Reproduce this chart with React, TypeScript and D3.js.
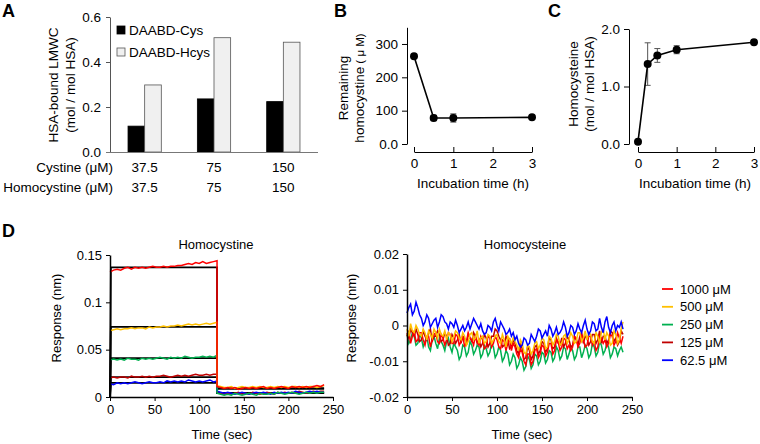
import { useEffect, useRef } from 'react';
import * as d3 from 'd3';

const FONT = '"Liberation Sans", Arial, Helvetica, sans-serif';

// ---- Panel A: HSA-bound LMWC ----
const A_GROUPS = ['37.5', '75', '150'];
const A_CYSTINE = ['37.5', '75', '150'];
const A_HOMOCYSTINE = ['37.5', '75', '150'];
const A_SERIES = ['DAABD-Cys', 'DAABD-Hcys'];
const A_CYS = [0.115, 0.236, 0.224];
const A_HCYS = [0.298, 0.508, 0.488];
const A_TICKS = [0, 0.2, 0.4, 0.6];

// ---- Panel B: remaining homocystine ----
const B_TIME = [0, 0.5, 1, 3];
const B_VALUE = [263, 78, 78, 80];
const B_ERR = [4, 8, 12, 4];
const B_TICKS = [0, 100, 200, 300];

// ---- Panel C: homocysteine bound ----
const C_TIME = [0, 0.25, 0.5, 1, 3];
const C_VALUE = [0.04, 1.39, 1.54, 1.64, 1.77];
const C_ERR = [0.02, 0.37, 0.12, 0.07, 0.04];
const C_TICKS = [0, 1, 2];
const TIME_TICKS_H = [0, 1, 2, 3];

// ---- Panel D: sensorgrams (values in 1e-3 nm) ----
const D_CONC = ['1000 μM', '500 μM', '250 μM', '125 μM', '62.5 μM'];
const D_COLORS = ['#ff0000', '#ffc000', '#00b050', '#c00000', '#0000ff'];
const D_T_ASSOC = d3.range(0, 121, 4);
const D_T_DISS = d3.range(120, 241, 4);
const D_T_HCY = d3.range(0, 241, 2);

const HCYSTINE_ASSOC = [
  [132, 134, 135, 134, 136, 137, 135, 137, 136, 137, 136, 137, 138, 137, 137, 138, 137, 138, 138, 139, 139, 140, 141, 140, 142, 141, 143, 141, 142, 143, 144],
  [70, 71, 72, 71, 72, 72, 73, 72, 73, 73, 72, 74, 73, 74, 74, 75, 74, 75, 75, 76, 75, 76, 77, 76, 77, 76, 77, 78, 77, 78, 79],
  [39, 40, 39, 40, 39, 41, 40, 40, 39, 41, 40, 41, 40, 41, 42, 41, 40, 42, 41, 42, 41, 43, 42, 41, 42, 42, 43, 42, 43, 42, 44],
  [20, 21, 20, 21, 21, 20, 22, 21, 21, 22, 21, 22, 21, 22, 22, 23, 22, 21, 22, 23, 22, 23, 22, 23, 24, 23, 23, 24, 23, 24, 24],
  [14, 13, 15, 14, 15, 14, 15, 16, 15, 14, 15, 16, 15, 15, 16, 15, 17, 16, 17, 16, 17, 16, 18, 17, 16, 17, 16, 17, 18, 16, 17],
];
const HCYSTINE_DISS = [
  [11, 10, 9, 10, 9, 10, 8, 9, 10, 9, 10, 9, 10, 11, 9, 10, 9, 10, 11, 10, 9, 11, 10, 11, 10, 11, 10, 11, 12, 11, 13],
  [12, 11, 10, 10, 11, 9, 10, 11, 10, 10, 11, 10, 11, 10, 10, 11, 10, 11, 10, 11, 10, 11, 11, 10, 11, 10, 11, 11, 10, 11, 12],
  [4, 3, 2, 3, 2, 4, 3, 2, 3, 4, 3, 2, 4, 3, 3, 4, 3, 5, 4, 3, 4, 5, 4, 3, 4, 5, 4, 5, 4, 5, 5],
  [5, 4, 3, 4, 3, 4, 5, 3, 4, 3, 5, 4, 3, 4, 5, 4, 3, 5, 4, 5, 4, 5, 4, 6, 5, 4, 5, 6, 5, 6, 6],
  [6, 5, 4, 5, 4, 3, 4, 5, 4, 3, 4, 5, 4, 5, 4, 3, 5, 4, 5, 4, 5, 4, 6, 5, 4, 5, 6, 5, 6, 5, 5],
];
// 1:1 fit curves: plateau during association, level after dissociation
const FIT_TIME = [0, 1, 120, 120, 240];
const FIT_PLATEAU = [137, 74, 41, 21, 15];
const FIT_DISS = [9, 9, 4, 4, 4];

const HCYSTEINE = [
  [-3, -1.5, -5, -3, -1.5, -4.5, -4, -2, -2, -4, -5.5, -3, -3, -6, -4, -2.5, -2, -4.5, -5, -2.5, -3.5, -5.5, -4, -2, -2.5, -5, -5, -2.5, -3, -5.5, -4.5, -3, -6, -4.5, -2, -3.5, -4, -5.5, -3, -4.5, -5.5, -3, -4, -6.5, -6, -3, -3.5, -6, -5, -3, -4, -6, -6.5, -4, -4.5, -7, -5, -3.5, -7, -5, -6, -8, -9, -6.5, -7.5, -10, -11, -8, -8, -11, -10, -7, -6.5, -9, -8, -5.5, -6, -8.5, -7.5, -5, -5, -8, -7, -4, -4.5, -7, -6, -3.5, -4, -6.5, -5.5, -7, -6, -3, -3.5, -6, -5, -2.5, -4, -6, -5.5, -3, -3, -5.5, -4.5, -7, -6, -3, -3.5, -5, -4, -6, -5, -2.5, -3, -5.5, -4.5, -2, -3.5, -5, -3],
  [-1, -3, 0.5, -1.5, -2, 0, -1, -2.5, -3, -1, -2, -4, -1.5, -2.5, -3.5, -1, -2, -3.5, -1, -2.5, -3, -1.5, -4, -2, -2.5, -4.5, -3, -1.5, -2, -3.5, -4, -2, -3, -5.5, -4.5, -2.5, -2, -4, -3.5, -1.5, -5, -3.5, -3, -5, -4.5, -2.5, -3, -5, -4, -3, -2.5, -4.5, -5, -2.5, -4, -6, -3, -4, -5, -3.5, -4.5, -5.5, -7, -4, -5, -7.5, -8, -5.5, -6, -8, -7, -5, -4.5, -6.5, -5.5, -3.5, -4, -6.5, -6, -3, -3.5, -5.5, -4.5, -2.5, -3, -5.5, -5, -3, -2.5, -5, -4, -2, -3, -5, -4.5, -2, -2, -4.5, -3.5, -1.5, -4, -2, -2.5, -4.5, -5, -2, -3, -5, -2, -1, -4, -2, -3, -5.5, -5, -1.5, -2.5, -5, -4, -1, 1],
  [-2.5, -5, -4, -2, -3, -5.5, -5, -2.5, -3.5, -6, -4.5, -3, -6, -7, -4, -3, -5, -6.5, -3.5, -4.5, -5.5, -7, -4.5, -3.5, -6, -7.5, -5, -6, -7, -9.5, -8.5, -5.5, -6, -8.5, -7.5, -4.5, -5.5, -8, -7, -5.5, -6, -9, -8, -5.5, -6.5, -8.5, -7.5, -5, -6, -9, -8, -6, -7, -10, -9, -7, -8, -11, -10, -8, -9, -12, -11, -9, -10, -12.5, -11.5, -8.5, -9.5, -12, -11, -8, -8.5, -11, -10, -7.5, -8, -10.5, -9.5, -7, -7.5, -10, -9, -6, -7, -9.5, -8.5, -6, -6.5, -9.5, -8, -6, -7, -9.5, -8.5, -6, -6, -9, -7.5, -5.5, -6.5, -9, -8, -5, -6, -8.5, -7.5, -4.5, -5.5, -8, -7, -5, -6, -9, -8, -6, -6.5, -8.5, -7, -6, -7.5],
  [-2, -3.5, -1, -2, -3, -1, -2.5, -4.5, -4, -1.5, -3, -4, -2, -1, -4.5, -3, -3, -1.5, -2.5, -4.5, -4, -2, -3, -5.5, -5, -2.5, -3.5, -5, -4, -2.5, -5, -3, -3.5, -5.5, -2.5, -3.5, -4.5, -2, -3, -5, -4, -6, -5, -2.5, -3.5, -6, -5, -3, -3, -1, -1.5, -3, -4, -6, -5.5, -3, -4, -6.5, -6, -4, -5, -7, -8, -5, -6.5, -9.5, -9, -6, -7, -9.5, -8.5, -6, -5.5, -8, -7, -4.5, -5, -7.5, -6.5, -3.5, -4, -6.5, -6, -3.5, -5, -5.5, -3.5, -6, -5, -3, -4, -6, -5.5, -3, -4, -5.5, -3, -2, -5, -3, -3.5, -5.5, -4.5, -2.5, -2.5, -5, -4, -1.5, -5, -3, -3, -5, -4, -1.5, -2, -4.5, -3.5, -5.5, -4.5, -1.5, -2.5],
  [3.5, 5, 6, 3, 4, 6.5, 5, 3, 2, 0, 1, 3, 2, -0.5, 0.5, 1.5, 2, -0.5, 1, 3, 2.5, 1, 0.5, -1, 1, 0.5, -0.5, 1.5, 0, -2, -1, 0, -1.5, -0.5, 1, -1, 0.5, 2, 1, 0, -1, 0.5, -1.5, -2.5, -2, 0, -0.5, -1.5, 1, 2, 0, -1.5, 1, 0, -1, -2.5, -2, -1, -3, -2, -4, -3, -5, -6, -5.5, -3.5, -4, -5.5, -5, -2.5, -3.5, -4.5, -3, -1, -1.5, -3.5, -2.5, -1.5, -3, 0, -1, -3, -2, -0.5, -2.5, -2, -1, 1, -0.5, -3, -2, 0, -0.5, -2.5, -1.5, 0.5, -1, -2, 0, 1.5, -1, -2.5, -1.5, 1, 0.5, -1.5, -1, 2, -0.5, -2, 1, 2.5, -0.5, -2, 0, 1, -1.5, 0, -0.5, 1, -1],
];
const D_LEFT_TICKS = [0, 0.05, 0.1, 0.15];
const D_RIGHT_TICKS = [-0.02, -0.01, 0, 0.01, 0.02];
const D_TIME_TICKS = [0, 50, 100, 150, 200, 250];

type Sel = d3.Selection<any, unknown, null, undefined>;

function styleAxis(g: Sel, color = '#000', size = 13.5) {
  g.attr('font-family', FONT).attr('font-size', size);
  g.selectAll('text').attr('fill', '#000');
  g.selectAll('line').attr('stroke', color);
  g.select('.domain').attr('stroke', color);
}

function text(svg: Sel, x: number, y: number, str: string, size = 13.5, anchor = 'middle', weight = 'normal') {
  return svg.append('text')
    .attr('x', x).attr('y', y)
    .attr('font-family', FONT).attr('font-size', size)
    .attr('font-weight', weight)
    .attr('text-anchor', anchor)
    .text(str);
}

function vtext(svg: Sel, x: number, y: number, str: string, size = 13) {
  return svg.append('text')
    .attr('transform', `translate(${x},${y}) rotate(-90)`)
    .attr('font-family', FONT).attr('font-size', size)
    .attr('text-anchor', 'middle')
    .text(str);
}

const App = () => {
  const svgRef = useRef<SVGSVGElement>(null);

  useEffect(() => {
    const svg: Sel = d3.select(svgRef.current);
    svg.selectAll('*').remove();

    // panel letters
    text(svg, 2, 17, 'A', 18, 'start', 'bold');
    text(svg, 334, 17, 'B', 18, 'start', 'bold');
    text(svg, 548, 17, 'C', 18, 'start', 'bold');
    text(svg, 2, 237, 'D', 18, 'start', 'bold');

    // ---------- A ----------
    const xA = d3.scaleBand<string>().domain(A_GROUPS).range([110, 318]).paddingInner(0.52).paddingOuter(0.26);
    const xSub = d3.scaleBand<string>().domain(A_SERIES).range([0, xA.bandwidth()]);
    const yA = d3.scaleLinear().domain([0, 0.6]).range([152, 17]);

    const gA = svg.append('g');
    A_GROUPS.forEach((grp, i) => {
      const vals = [A_CYS[i], A_HCYS[i]];
      A_SERIES.forEach((s, j) => {
        gA.append('rect')
          .attr('x', xA(grp)! + xSub(s)!)
          .attr('y', yA(vals[j]))
          .attr('width', xSub.bandwidth())
          .attr('height', yA(0) - yA(vals[j]))
          .attr('fill', j === 0 ? '#000' : '#f0f0f0')
          .attr('stroke', j === 0 ? '#000' : '#555')
          .attr('stroke-width', 0.8);
      });
    });

    const axA = svg.append('g').attr('transform', 'translate(110,0)')
      .call(d3.axisLeft(yA).tickValues(A_TICKS).tickFormat(d3.format('.1f')).tickSize(4).tickPadding(5).tickSizeOuter(0));
    styleAxis(axA, '#555');
    svg.append('line')
      .attr('x1', 106).attr('x2', 318).attr('y1', yA(0) + 0.5).attr('y2', yA(0) + 0.5)
      .attr('stroke', '#777').attr('stroke-width', 1);

    vtext(svg, 58, 85, 'HSA-bound LMWC', 13.5);
    vtext(svg, 75, 85, '(mol / mol HSA)', 13.5);

    // legend A
    A_SERIES.forEach((s, j) => {
      const ly = 26 + j * 22;
      svg.append('rect').attr('x', 117).attr('y', ly).attr('width', 8).attr('height', 8)
        .attr('fill', j === 0 ? '#000' : '#f0f0f0').attr('stroke', j === 0 ? '#000' : '#555').attr('stroke-width', 0.8);
      text(svg, 129, ly + 9, s, 13.5, 'start');
    });

    // table under A
    text(svg, 113, 172, 'Cystine (μM)', 13.5, 'end');
    text(svg, 113, 192, 'Homocystine (μM)', 13.5, 'end');
    A_GROUPS.forEach((grp, i) => {
      const cx = xA(grp)! + xA.bandwidth() / 2;
      text(svg, cx, 172, A_CYSTINE[i]);
      text(svg, cx, 192, A_HOMOCYSTINE[i]);
    });

    // ---------- B ----------
    const xB = d3.scaleLinear().domain([0, 3]).range([414, 532]);
    const yB = d3.scaleLinear().domain([0, 350]).range([144, 27.3]);
    const axBy = svg.append('g').attr('transform', 'translate(407,0)')
      .call(d3.axisLeft(yB).tickValues(B_TICKS).tickFormat((d: any) => (d === 0 ? '0.0' : String(d))).tickSize(5).tickPadding(4).tickSizeOuter(0));
    styleAxis(axBy);
    const axBx = svg.append('g').attr('transform', 'translate(0,152)')
      .call(d3.axisBottom(xB).tickValues(TIME_TICKS_H).tickFormat(d3.format('d')).tickSizeInner(-5).tickSizeOuter(0).tickPadding(6));
    styleAxis(axBx);

    const lineB = d3.line<number>().x((_, i) => xB(B_TIME[i])).y(d => yB(d));
    svg.append('path').datum(B_VALUE).attr('d', lineB).attr('fill', 'none').attr('stroke', '#000').attr('stroke-width', 1.6);
    B_VALUE.forEach((v, i) => {
      const cx = xB(B_TIME[i]);
      const g = svg.append('g').attr('stroke', '#222').attr('stroke-width', 1);
      g.append('line').attr('x1', cx).attr('x2', cx).attr('y1', yB(v - B_ERR[i])).attr('y2', yB(v + B_ERR[i]));
      g.append('line').attr('x1', cx - 3).attr('x2', cx + 3).attr('y1', yB(v - B_ERR[i])).attr('y2', yB(v - B_ERR[i]));
      g.append('line').attr('x1', cx - 3).attr('x2', cx + 3).attr('y1', yB(v + B_ERR[i])).attr('y2', yB(v + B_ERR[i]));
      svg.append('circle').attr('cx', cx).attr('cy', yB(v)).attr('r', 4).attr('fill', '#000');
    });
    vtext(svg, 348, 88, 'Remaining', 13.5);
    const hb = vtext(svg, 364, 88, 'homocystine', 13.5);
    hb.append('tspan').attr('font-size', 11.5).text(' ( μ M)');
    text(svg, 473, 188, 'Incubation time (h)');

    // ---------- C ----------
    const xC = d3.scaleLinear().domain([0, 3]).range([638, 754]);
    const yC = d3.scaleLinear().domain([0, 2]).range([144, 29]);
    const axCy = svg.append('g').attr('transform', 'translate(629,0)')
      .call(d3.axisLeft(yC).tickValues(C_TICKS).tickFormat(d3.format('.1f')).tickSize(5).tickPadding(4).tickSizeOuter(0));
    styleAxis(axCy);
    const axCx = svg.append('g').attr('transform', 'translate(0,152)')
      .call(d3.axisBottom(xC).tickValues(TIME_TICKS_H).tickFormat(d3.format('d')).tickSizeInner(-5).tickSizeOuter(0).tickPadding(6));
    styleAxis(axCx);

    C_VALUE.forEach((v, i) => {
      const cx = xC(C_TIME[i]);
      const g = svg.append('g').attr('stroke', '#555').attr('stroke-width', 1);
      g.append('line').attr('x1', cx).attr('x2', cx).attr('y1', yC(v - C_ERR[i])).attr('y2', yC(v + C_ERR[i]));
      g.append('line').attr('x1', cx - 3).attr('x2', cx + 3).attr('y1', yC(v - C_ERR[i])).attr('y2', yC(v - C_ERR[i]));
      g.append('line').attr('x1', cx - 3).attr('x2', cx + 3).attr('y1', yC(v + C_ERR[i])).attr('y2', yC(v + C_ERR[i]));
    });
    const lineC = d3.line<number>().x((_, i) => xC(C_TIME[i])).y(d => yC(d));
    svg.append('path').datum(C_VALUE).attr('d', lineC).attr('fill', 'none').attr('stroke', '#000').attr('stroke-width', 1.6);
    C_VALUE.forEach((v, i) => {
      svg.append('circle').attr('cx', xC(C_TIME[i])).attr('cy', yC(v)).attr('r', 4).attr('fill', '#000');
    });
    vtext(svg, 578, 84, 'Homocysteine', 13.5);
    vtext(svg, 594, 84, '(mol / mol HSA)', 13.5);
    text(svg, 695, 188, 'Incubation time (h)');

    // ---------- D left: homocystine ----------
    const xDL = d3.scaleLinear().domain([0, 250]).range([110, 333]);
    const yDL = d3.scaleLinear().domain([0, 0.15]).range([397, 255]);

    const fitLine = d3.line<number>().x((_, i) => xDL(FIT_TIME[i])).y(d => yDL(d / 1000));
    FIT_PLATEAU.forEach((p, k) => {
      const vals = [0, p, p, FIT_DISS[k], FIT_DISS[k]];
      svg.append('path').datum(vals).attr('d', fitLine)
        .attr('fill', 'none').attr('stroke', '#000').attr('stroke-width', 1.8);
    });
    const traceL = d3.line<[number, number]>().x(d => xDL(d[0])).y(d => yDL(d[1] / 1000));
    [3, 4, 2, 1, 0].forEach(k => {
      const pts: [number, number][] = [
        ...D_T_ASSOC.map((t, i) => [t, HCYSTINE_ASSOC[k][i]] as [number, number]),
        ...D_T_DISS.map((t, i) => [t, HCYSTINE_DISS[k][i]] as [number, number]),
      ];
      svg.append('path').datum(pts).attr('d', traceL)
        .attr('fill', 'none').attr('stroke', D_COLORS[k]).attr('stroke-width', 1.5);
    });
    const axDLy = svg.append('g').attr('transform', 'translate(110,0)')
      .call(d3.axisLeft(yDL).tickValues(D_LEFT_TICKS).tickFormat((d: any) => String(d)).tickSize(4).tickPadding(4).tickSizeOuter(0));
    styleAxis(axDLy, '#000', 13);
    const axDLx = svg.append('g').attr('transform', 'translate(0,397)')
      .call(d3.axisBottom(xDL).tickValues(D_TIME_TICKS).tickFormat(d3.format('d')).tickSize(4).tickPadding(4).tickSizeOuter(0));
    styleAxis(axDLx, '#000', 13);
    axDLy.select('.domain').attr('stroke-width', 1.5);
    axDLx.select('.domain').attr('stroke-width', 1.5);
    text(svg, 216, 249, 'Homocystine', 13);
    vtext(svg, 61, 318, 'Response (nm)', 13);
    text(svg, 222, 439, 'Time (sec)', 13);

    // ---------- D right: homocysteine ----------
    const xDR = d3.scaleLinear().domain([0, 250]).range([407, 632]);
    const yDR = d3.scaleLinear().domain([-0.02, 0.02]).range([397, 254]);
    const traceR = d3.line<number>().x((_, i) => xDR(D_T_HCY[i])).y(d => yDR(d / 1000));
    [2, 3, 0, 1, 4].forEach(k => {
      svg.append('path').datum(HCYSTEINE[k]).attr('d', traceR)
        .attr('fill', 'none').attr('stroke', D_COLORS[k]).attr('stroke-width', 1.5);
    });
    const axDRy = svg.append('g').attr('transform', 'translate(407,0)')
      .call(d3.axisLeft(yDR).tickValues(D_RIGHT_TICKS).tickFormat((d: any) => String(d)).tickSize(4).tickPadding(4).tickSizeOuter(0));
    styleAxis(axDRy, '#000', 13);
    const axDRx = svg.append('g').attr('transform', 'translate(0,397)')
      .call(d3.axisBottom(xDR).tickValues(D_TIME_TICKS).tickFormat(d3.format('d')).tickSize(4).tickPadding(4).tickSizeOuter(0));
    styleAxis(axDRx, '#000', 13);
    axDRy.select('.domain').attr('stroke-width', 1.5);
    axDRx.select('.domain').attr('stroke-width', 1.5);
    text(svg, 525, 249, 'Homocysteine', 13);
    vtext(svg, 356, 318, 'Response (nm)', 13);
    text(svg, 522, 439, 'Time (sec)', 13);

    // legend D
    D_CONC.forEach((c, k) => {
      const ly = 289 + k * 17.8;
      svg.append('line').attr('x1', 662).attr('x2', 673).attr('y1', ly).attr('y2', ly)
        .attr('stroke', D_COLORS[k]).attr('stroke-width', 1.8);
      text(svg, 680, ly + 4.5, c, 13, 'start');
    });
  }, []);

  return (
    <svg
      ref={svgRef}
      width={760}
      height={444}
      style={{ position: 'absolute', left: 0, top: 0, background: '#fff' }}
    />
  );
};

export default App;
